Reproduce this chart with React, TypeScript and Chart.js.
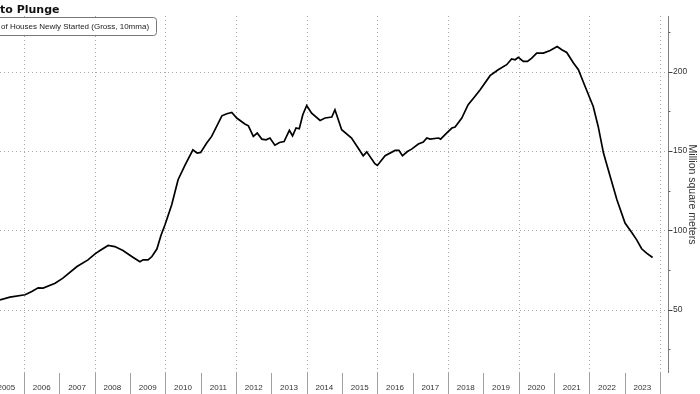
import React, { useEffect, useRef } from 'react';
import { Chart, registerables } from 'chart.js';

Chart.register(...registerables);

// Decimal year of each reading (10-month moving average, monthly data)
const dates = [
  2005.32, 2005.6, 2006.03, 2006.22, 2006.4, 2006.54, 2006.88, 2007.1, 2007.5, 2007.81,
  2008.01, 2008.15, 2008.38, 2008.57, 2008.8, 2009.08, 2009.28, 2009.37, 2009.51, 2009.62,
  2009.76, 2009.88, 2009.99, 2010.18, 2010.36, 2010.56, 2010.78, 2010.9, 2011.0, 2011.17,
  2011.31, 2011.6, 2011.74, 2011.88, 2012.02, 2012.25, 2012.35, 2012.49, 2012.6, 2012.73,
  2012.85, 2012.96, 2013.1, 2013.23, 2013.36, 2013.51, 2013.6, 2013.7, 2013.79, 2013.89,
  2014.0, 2014.14, 2014.38, 2014.52, 2014.71, 2014.8, 2014.99, 2015.27, 2015.6, 2015.7,
  2015.93, 2016.0, 2016.22, 2016.5, 2016.61, 2016.71, 2016.85, 2016.97, 2017.16, 2017.3,
  2017.4, 2017.49, 2017.73, 2017.79, 2017.96, 2018.11, 2018.2, 2018.39, 2018.57, 2018.76,
  2018.91, 2019.19, 2019.42, 2019.66, 2019.8, 2019.9, 2019.99, 2020.13, 2020.25, 2020.37,
  2020.51, 2020.7, 2020.89, 2021.09, 2021.22, 2021.36, 2021.55, 2021.69, 2021.88, 2022.11,
  2022.25, 2022.4, 2022.59, 2022.78, 2023.01, 2023.2, 2023.34, 2023.48, 2023.62, 2023.79,
];

// Floor area of houses newly started, million square meters
const values = [
  56.1, 57.8, 59.3, 61.4, 63.7, 63.5, 66.6, 69.8, 77.1, 81.3,
  85.1, 87.2, 90.4, 89.7, 87.2, 83.0, 80.1, 81.3, 81.3, 83.4,
  88.1, 97.0, 103.4, 116.0, 131.8, 141.2, 150.7, 148.6, 149.0, 154.9,
  159.1, 172.1, 173.4, 174.2, 170.7, 166.9, 165.8, 159.1, 161.2, 157.4,
  157.0, 158.1, 153.6, 155.3, 155.9, 162.9, 159.5, 164.4, 163.9, 172.8,
  178.6, 173.8, 169.2, 170.7, 171.3, 175.9, 163.3, 158.1, 146.9, 149.4,
  141.9, 140.8, 146.9, 150.3, 150.3, 146.9, 149.6, 151.1, 154.3, 155.5,
  158.1, 157.4, 158.1, 157.4, 161.2, 164.4, 165.0, 170.7, 179.1, 184.3,
  188.5, 197.4, 201.1, 204.3, 207.9, 207.4, 208.9, 206.4, 206.4, 208.5,
  211.6, 211.6, 213.3, 215.8, 213.7, 212.0, 205.4, 201.1, 190.6, 178.0,
  165.4, 148.6, 133.9, 119.2, 104.5, 98.6, 93.9, 88.3, 85.5, 82.8,
];

const yearLabels = [
  2005, 2006, 2007, 2008, 2009, 2010, 2011, 2012, 2013, 2014,
  2015, 2016, 2017, 2018, 2019, 2020, 2021, 2022, 2023, 2024,
];
const gridYears = [2006, 2008, 2010, 2012, 2014, 2016, 2018, 2020, 2022, 2024];
const yMajorTicks = [50, 100, 150, 200];
const yMinorTicks = [25, 75, 125, 175, 225];
const titleText = 'to Plunge';
const legendText = 'of Houses Newly Started (Gross, 10mma)';
const axisTitle = 'Million square meters';

const decor = {
  id: 'decor',
  beforeDatasetsDraw(chart: any) {
    const { ctx, chartArea: a, scales } = chart;
    const x = scales.x;
    const y = scales.y;
    ctx.save();
    ctx.strokeStyle = '#a8a8a8';
    ctx.lineWidth = 1;
    ctx.setLineDash([1, 3]);
    yMajorTicks.forEach((v) => {
      const py = Math.round(y.getPixelForValue(v)) + 0.5;
      ctx.beginPath();
      ctx.moveTo(a.left, py);
      ctx.lineTo(a.right, py);
      ctx.stroke();
    });
    gridYears.forEach((yr) => {
      const px = Math.round(x.getPixelForValue(yr)) + 0.5;
      ctx.beginPath();
      ctx.moveTo(px, a.top);
      ctx.lineTo(px, a.bottom);
      ctx.stroke();
    });
    ctx.restore();
  },
  afterDraw(chart: any) {
    const { ctx, chartArea: a, scales, height } = chart;
    const x = scales.x;
    const y = scales.y;
    ctx.save();
    // right axis line
    const ax = Math.round(a.right) + 0.5;
    ctx.strokeStyle = '#808080';
    ctx.lineWidth = 1;
    ctx.beginPath();
    ctx.moveTo(ax, a.top);
    ctx.lineTo(ax, a.bottom);
    ctx.stroke();
    // ticks
    ctx.strokeStyle = '#444';
    yMajorTicks.forEach((v) => {
      const py = Math.round(y.getPixelForValue(v)) + 0.5;
      ctx.beginPath();
      ctx.moveTo(ax, py);
      ctx.lineTo(ax + 4, py);
      ctx.stroke();
    });
    ctx.strokeStyle = '#666';
    yMinorTicks.forEach((v) => {
      const py = Math.round(y.getPixelForValue(v)) + 0.5;
      ctx.beginPath();
      ctx.moveTo(ax, py);
      ctx.lineTo(ax + 2, py);
      ctx.stroke();
    });
    // year separators and labels
    ctx.strokeStyle = '#a0a0a0';
    yearLabels.forEach((yr) => {
      const px = Math.round(x.getPixelForValue(yr)) + 0.5;
      if (px > a.left && px <= a.right) {
        ctx.beginPath();
        ctx.moveTo(px, a.bottom);
        ctx.lineTo(px, height);
        ctx.stroke();
      }
    });
    ctx.fillStyle = '#333';
    ctx.font = '8px "Liberation Sans", Arial, sans-serif';
    ctx.textAlign = 'center';
    ctx.textBaseline = 'middle';
    yearLabels.forEach((yr) => {
      if (yr + 0.5 < x.max) {
        ctx.fillText(String(yr), x.getPixelForValue(yr + 0.5), 388);
      }
    });
    // title
    ctx.fillStyle = '#111';
    ctx.font = 'bold 11px "DejaVu Sans", sans-serif';
    ctx.textAlign = 'left';
    ctx.textBaseline = 'alphabetic';
    ctx.fillText(titleText, 0, 12.5);
    // legend box
    ctx.fillStyle = '#fff';
    ctx.strokeStyle = '#777';
    ctx.lineWidth = 1;
    ctx.beginPath();
    (ctx as any).roundRect(-10.5, 17.5, 167, 18, 3);
    ctx.fill();
    ctx.stroke();
    ctx.fillStyle = '#222';
    ctx.font = '8px "Liberation Sans", Arial, sans-serif';
    ctx.textBaseline = 'middle';
    ctx.fillText(legendText, 1, 27);
    ctx.restore();
  },
};

export default function App() {
  const ref = useRef<HTMLCanvasElement>(null);
  useEffect(() => {
    if (!ref.current) return;
    const chart = new Chart(ref.current, {
      type: 'line',
      data: {
        datasets: [
          {
            label: 'Floor Area of Houses Newly Started',
            data: dates.map((d, i) => ({ x: d, y: values[i] })),
            borderColor: '#000',
            borderWidth: 1.7,
            pointRadius: 0,
            tension: 0,
            fill: false,
          },
        ],
      },
      options: {
        animation: false,
        responsive: false,
        devicePixelRatio: 1,
        layout: { padding: { top: 16, left: 0, right: 0, bottom: 0 } },
        plugins: { legend: { display: false }, tooltip: { enabled: false }, title: { display: false } },
        scales: {
          x: {
            type: 'linear',
            min: 2005.32,
            max: 2024.226,
            grid: { display: false },
            border: { display: false },
            ticks: { display: false },
            afterFit: (s: any) => {
              s.height = 21;
            },
          },
          y: {
            type: 'linear',
            position: 'right',
            min: 10,
            max: 235,
            grid: { display: false, drawTicks: false },
            border: { display: false },
            afterBuildTicks: (s: any) => {
              s.ticks = [...yMinorTicks, ...yMajorTicks].sort((p, q) => p - q).map((v) => ({ value: v }));
            },
            ticks: {
              padding: 5,
              color: '#333',
              font: { family: '"Liberation Sans", Arial, sans-serif', size: 8.5 },
              callback: (v: any) => (yMajorTicks.includes(Number(v)) ? String(v) : ''),
            },
            title: {
              display: true,
              text: axisTitle,
              color: '#333',
              font: { family: '"Liberation Sans", Arial, sans-serif', size: 10.5 },
              padding: { top: 2, bottom: 0 },
            },
            afterFit: (s: any) => {
              s.width = 32;
            },
          },
        },
      },
      plugins: [decor],
    });
    return () => chart.destroy();
  }, []);
  return (
    <div style={{ position: 'absolute', left: 0, top: 0, width: 700, height: 394, background: '#fff' }}>
      <canvas ref={ref} width={700} height={394} style={{ width: 700, height: 394, display: 'block' }} />
    </div>
  );
}
